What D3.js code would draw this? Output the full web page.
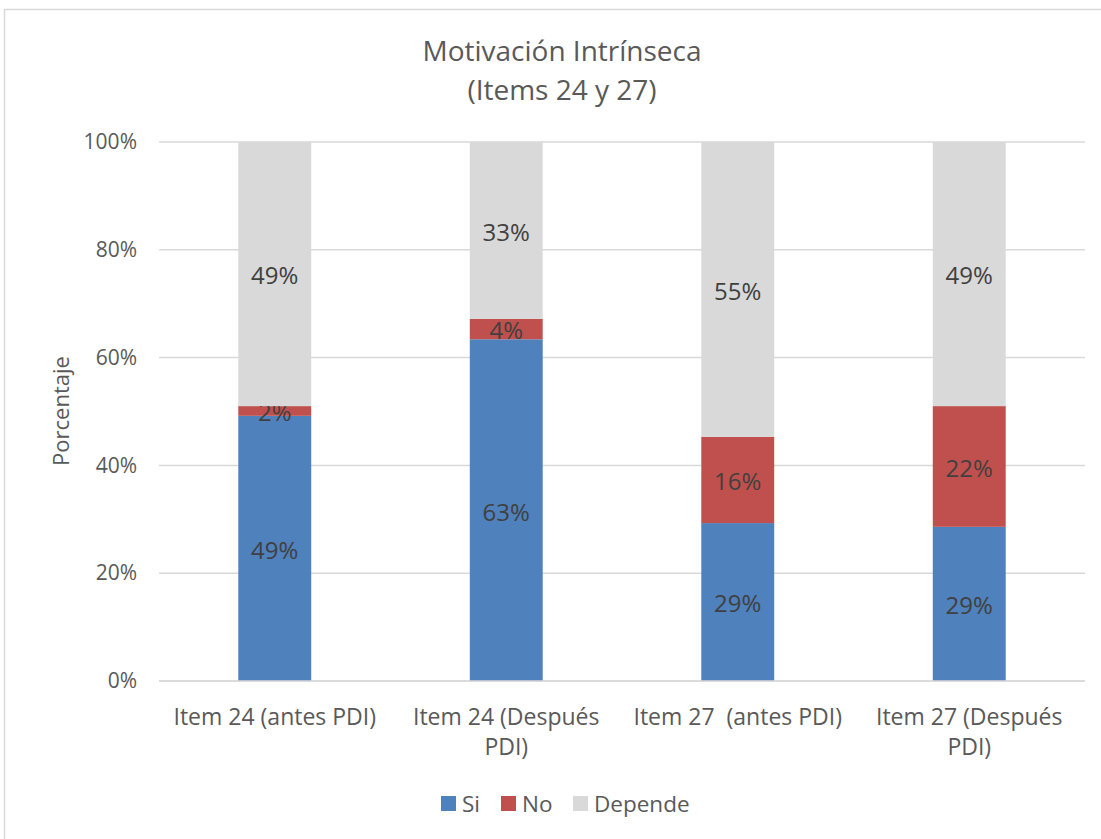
<!DOCTYPE html>
<html>
  <head>
    <meta charset="utf-8">
    <title>Motivación Intrínseca</title>
    <script src="https://d3js.org/d3.v7.min.js"></script>
    <style>
      body { margin: 0; background: #fff; }
      svg text { font-family: "Open Sans", sans-serif; fill: #595959; }
      .grid line { stroke: #d9d9d9; stroke-width: 1.5; }
      .value { fill: #404040; font-size: 24px; }
    </style>
  </head>
  <body>
    <svg id="chart" width="1101" height="839"></svg>
    <script>
      // data
      var categories = [
        "Item 24 (antes PDI)",
        "Item 24 (Después PDI)",
        "Item 27  (antes PDI)",
        "Item 27 (Después PDI)"
      ];
      var seriesNames = ["Si", "No", "Depende"];
      var si = [49.2, 63.4, 29.3, 28.6];
      var no = [1.8, 3.8, 16.0, 22.4];
      var depende = [49.0, 32.8, 54.7, 49.0];
      var yTicks = [0, 20, 40, 60, 80, 100];
      var colours = ["#4f81bd", "#c0504d", "#d9d9d9"];
      // label wraps as in the original
      var labelLines = [
        ["Item 24 (antes PDI)"],
        ["Item 24 (Después", "PDI)"],
        ["Item 27\u00a0\u00a0(antes PDI)"],
        ["Item 27 (Después", "PDI)"]
      ];

      var rows = categories.map(function(c, i) {
        return { cat: c, Si: si[i], No: no[i], Depende: depende[i] };
      });
      var stacked = d3.stack().keys(seriesNames)(rows);

      var svg = d3.select("#chart");
      var plotLeft = 159, plotRight = 1085, plotTop = 142, plotBottom = 681;

      // outer chart border
      svg.append("rect")
        .attr("x", 4.5).attr("y", 9.5)
        .attr("width", 1120).attr("height", 860)
        .attr("fill", "none")
        .attr("stroke", "#d9d9d9")
        .attr("stroke-width", 1.5);

      var x = d3.scaleBand()
        .domain(categories)
        .range([plotLeft, plotRight])
        .paddingInner(0.685)
        .paddingOuter(0.3425);
      var y = d3.scaleLinear()
        .domain([0, 100])
        .range([plotBottom, plotTop]);

      // title
      var title = svg.append("text")
        .attr("text-anchor", "middle")
        .style("font-size", "28px");
      title.append("tspan").attr("x", 562).attr("y", 61).text("Motivación Intrínseca");
      title.append("tspan").attr("x", 562).attr("y", 100).text("(Items 24 y 27)");

      // gridlines
      svg.append("g")
        .attr("class", "grid")
        .selectAll("line")
          .data(yTicks)
        .enter().append("line")
          .attr("x1", plotLeft).attr("x2", plotRight)
          .attr("y1", function(d) { return y(d); })
          .attr("y2", function(d) { return y(d); });

      // y axis labels
      var yAxis = d3.axisLeft(y)
        .tickValues(yTicks)
        .tickSize(0)
        .tickPadding(22)
        .tickFormat(function(d) { return d + "%"; });
      var yg = svg.append("g")
        .attr("transform", "translate(" + plotLeft + ",0)")
        .call(yAxis);
      yg.select(".domain").remove();
      yg.selectAll("text")
        .style("font-size", "21px")
        .style("font-family", "'Open Sans', sans-serif")
        .attr("fill", "#595959");

      svg.append("text")
        .attr("transform", "translate(69,411) rotate(-90)")
        .attr("text-anchor", "middle")
        .style("font-size", "22px")
        .text("Porcentaje");

      // bars
      var layers = svg.selectAll(".layer")
          .data(stacked)
        .enter().append("g")
          .attr("class", "layer")
          .attr("fill", function(d, i) { return colours[i]; });
      layers.selectAll("rect")
          .data(function(d) { return d; })
        .enter().append("rect")
          .attr("x", function(d) { return x(d.data.cat); })
          .attr("width", x.bandwidth())
          .attr("y", function(d) { return y(d[1]); })
          .attr("height", function(d) { return y(d[0]) - y(d[1]); });

      // value labels
      layers.selectAll(".value")
          .data(function(d) { return d; })
        .enter().append("text")
          .attr("class", "value")
          .attr("text-anchor", "middle")
          .attr("dy", "0.35em")
          .attr("x", function(d) { return x(d.data.cat) + x.bandwidth() / 2; })
          .attr("y", function(d) { return y((d[0] + d[1]) / 2) + 2; })
          .text(function(d) { return d3.format(".0f")(d[1] - d[0]) + "%"; });

      // baseline
      svg.append("line")
        .attr("x1", plotLeft).attr("x2", plotRight)
        .attr("y1", plotBottom).attr("y2", plotBottom)
        .attr("stroke", "#d9d9d9")
        .attr("stroke-width", 1.5);

      // category labels
      var cats = svg.selectAll(".cat")
          .data(categories)
        .enter().append("text")
          .attr("class", "cat")
          .attr("text-anchor", "middle")
          .style("font-size", "23px");
      cats.selectAll("tspan")
          .data(function(d, i) {
            return labelLines[i].map(function(l) { return { cat: d, line: l }; });
          })
        .enter().append("tspan")
          .attr("x", function(d) { return x(d.cat) + x.bandwidth() / 2; })
          .attr("y", function(d, j) { return 725 + j * 30; })
          .text(function(d) { return d.line; });

      // legend
      var legendX = [441, 501, 573];
      var legend = svg.selectAll(".legend")
          .data(seriesNames)
        .enter().append("g")
          .attr("class", "legend")
          .attr("transform", function(d, i) { return "translate(" + legendX[i] + ",796)"; });
      legend.append("rect")
        .attr("width", 15).attr("height", 15)
        .attr("fill", function(d, i) { return colours[i]; });
      legend.append("text")
        .attr("x", 21).attr("y", 8)
        .attr("dy", "0.35em")
        .style("font-size", "22.5px")
        .text(function(d) { return d; });
    </script>
  </body>
</html>
